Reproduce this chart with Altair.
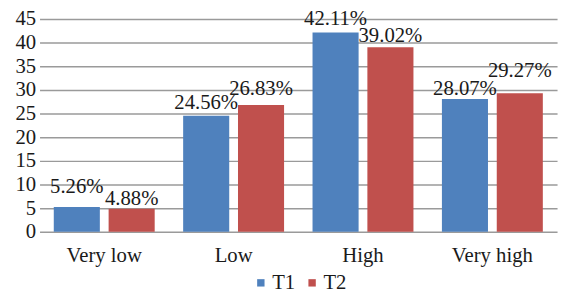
import altair as alt
import pandas as pd

categories = ["Very low", "Low", "High", "Very high"]
t1_values = [5.26, 24.56, 42.11, 28.07]
t2_values = [4.88, 26.83, 39.02, 29.27]
series_names = ["T1", "T2"]
colors = ["#4F81BD", "#C0504D"]
y_ticks = [0, 5, 10, 15, 20, 25, 30, 35, 40, 45]

rows = []
for c, a, b in zip(categories, t1_values, t2_values):
    rows.append({"cat": c, "series": "T1", "value": a, "label": f"{a:.2f}%"})
    rows.append({"cat": c, "series": "T2", "value": b, "label": f"{b:.2f}%"})
df = pd.DataFrame(rows)

FONT = "Liberation Serif"
FS = 21
TXT = "#1a1a1a"

# label lift above the bar top (pixels), mimicking the spreadsheet's label nudging
label_lift = {
    ("Very low", "T1"): 20, ("Very low", "T2"): 10,
    ("Low", "T1"): 13, ("Low", "T2"): 16,
    ("High", "T1"): 14, ("High", "T2"): 11,
    ("Very high", "T1"): 10, ("Very high", "T2"): 23,
}

x = alt.X("cat:N", sort=categories, title=None,
          scale=alt.Scale(paddingInner=0.22, paddingOuter=0.11),
          axis=alt.Axis(labelAngle=0, labelFont=FONT, labelFontSize=FS,
                        labelColor=TXT, ticks=False, domain=False,
                        labelPadding=13))
xo = alt.XOffset("series:N", sort=series_names,
                 scale=alt.Scale(paddingInner=0.16))
y = alt.Y("value:Q", title=None,
          scale=alt.Scale(domain=[0, 45], nice=False),
          axis=alt.Axis(values=y_ticks, tickCount=10, labelFont=FONT,
                        labelFontSize=FS, labelColor=TXT, labelOverlap=False,
                        ticks=False, domain=False, gridColor="#9a9a9a",
                        gridWidth=1.5, labelPadding=4))

base = alt.Chart(df)

bars = base.mark_bar().encode(
    x=x,
    xOffset=xo,
    y=y,
    color=alt.Color("series:N", sort=series_names,
                    scale=alt.Scale(domain=series_names, range=colors),
                    legend=alt.Legend(title=None, orient="none", direction="horizontal",
                                      legendX=214, legendY=257,
                                      symbolType="square", symbolSize=56,
                                      labelFont=FONT, labelFontSize=FS,
                                      labelColor=TXT, columnPadding=6,
                                      labelOffset=1)),
)

layers = [bars]
for (c, s), lift in label_lift.items():
    layers.append(
        base.transform_filter(
            (alt.datum.cat == c) & (alt.datum.series == s)
        ).mark_text(font=FONT, fontSize=FS, color=TXT,
                    baseline="middle", dy=-lift).encode(
            x=x, xOffset=xo, y=y, text="label:N",
        )
    )

chart = alt.layer(*layers).properties(
    width=525, height=216,
    autosize=alt.AutoSizeParams(type="none"),
    padding={"left": 32, "top": 9, "right": 4, "bottom": 63},
).configure_view(stroke=None)

chart.save("out.html", embed_options={"renderer": "svg", "actions": False})
